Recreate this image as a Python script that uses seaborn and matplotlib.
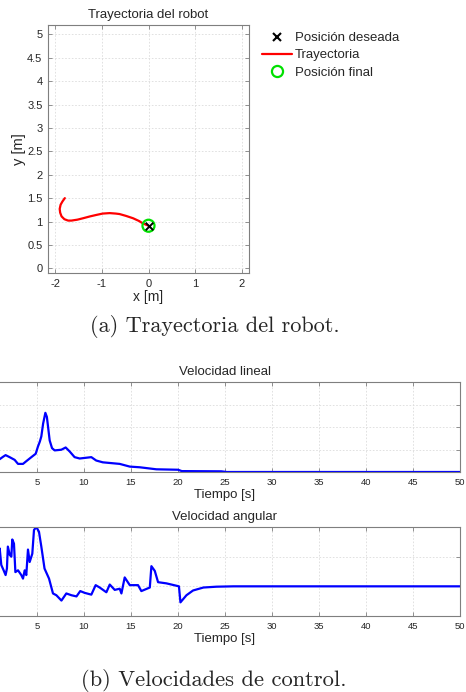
import numpy as np
import pandas as pd
import matplotlib
matplotlib.use("Agg")
import matplotlib.pyplot as plt
from matplotlib.lines import Line2D
import seaborn as sns

# ---------------- data ----------------
traj_x = [-1.79, -1.84, -1.88, -1.90, -1.89, -1.86, -1.80, -1.72, -1.65, -1.52, -1.40,
          -1.25, -1.12, -0.98, -0.83, -0.70, -0.62, -0.48, -0.33, -0.20, -0.12, -0.05, 0.0]
traj_y = [1.50, 1.43, 1.36, 1.27, 1.19, 1.11, 1.05, 1.02, 1.02, 1.04, 1.07,
          1.11, 1.14, 1.17, 1.18, 1.17, 1.16, 1.12, 1.07, 1.01, 0.96, 0.93, 0.91]
goal_x, goal_y = [0.0], [0.9]
final_x, final_y = [0.0], [0.91]

t_lin = [0.0, 0.5, 1.03, 1.40, 1.66, 2.09, 2.62, 2.98, 3.51, 3.86, 4.40, 4.86, 5.10, 5.30,
         5.46, 5.65, 5.89, 6.05, 6.17, 6.35, 6.60, 6.88, 7.59, 8.05, 8.48, 9.00, 9.54,
         10.78, 11.30, 12.00, 13.80, 14.87, 15.93, 17.70, 20.00, 20.40, 24.60, 25.20, 50.0]
v_lin = [0.045, 0.05, 0.057, 0.068, 0.075, 0.066, 0.054, 0.036, 0.036, 0.048, 0.066,
         0.081, 0.113, 0.135, 0.158, 0.215, 0.263, 0.245, 0.203, 0.140, 0.106, 0.096,
         0.099, 0.109, 0.091, 0.066, 0.060, 0.066, 0.051, 0.043, 0.036, 0.024, 0.021,
         0.012, 0.010, 0.004, 0.003, 0.0, 0.0]

t_ang = [0.0, 0.6, 1.03, 1.20, 1.45, 1.66, 1.80, 1.90, 2.10, 2.27, 2.37, 2.55, 2.70, 2.98,
         3.33, 3.51, 3.69, 3.86, 4.04, 4.22, 4.50, 4.68, 4.93, 5.21, 5.46, 5.80, 6.28,
         6.70, 7.06, 7.60, 8.12, 8.66, 9.20, 9.60, 10.07, 10.78, 11.24, 11.67, 12.38,
         12.74, 13.27, 13.80, 13.98, 14.33, 14.87, 15.75, 16.10, 17.00, 17.17, 17.53,
         17.88, 18.77, 20.10, 20.26, 20.90, 21.60, 22.70, 24.10, 25.90, 50.0]
w_ang = [0.30, 0.45, 0.64, 0.36, 0.27, 0.19, 0.30, 0.67, 0.53, 0.50, 0.79, 0.72, 0.24, 0.27,
         0.19, 0.13, 0.27, 0.19, 0.62, 0.41, 0.55, 0.95, 1.00, 0.92, 0.67, 0.30, 0.13,
         -0.12, -0.15, -0.24, -0.12, -0.15, -0.17, -0.08, -0.11, -0.14, 0.02, -0.02, -0.10,
         0.03, -0.06, -0.04, -0.12, 0.15, 0.02, 0.02, -0.08, -0.02, 0.34, 0.26,
         0.07, 0.05, 0.0, -0.27, -0.15, -0.07, -0.02, -0.006, 0.0, 0.0]

x_ticks_traj = [-2, -1, 0, 1, 2]
y_ticks_traj = [0, 0.5, 1, 1.5, 2, 2.5, 3, 3.5, 4, 4.5, 5]
y_labels_traj = ["0", "0.5", "1", "1.5", "2", "2.5", "3", "3.5", "4", "4.5", "5"]
t_ticks = [0, 5, 10, 15, 20, 25, 30, 35, 40, 45, 50]
t_labels = ["", "5", "10", "15", "20", "25", "30", "35", "40", "45", "50"]

traj_df = pd.DataFrame({"x": traj_x, "y": traj_y})
lin_df = pd.DataFrame({"t": t_lin, "v": v_lin})
ang_df = pd.DataFrame({"t": t_ang, "w": w_ang})

# ---------------- style ----------------
sns.set_style("ticks")
plt.rcParams["font.family"] = ["Liberation Sans", "DejaVu Sans"]
plt.rcParams["axes.unicode_minus"] = False
FRAME = "#7f7f7f"
GRID = "#dcdcdc"

W, H = 466, 692
fig = plt.figure(figsize=(W / 100, H / 100), dpi=100)


def ax_px(left, top, right, bottom):
    return fig.add_axes([left / W, 1 - bottom / H, (right - left) / W, (bottom - top) / H])


def style_axes(ax, labelsize):
    for s in ax.spines.values():
        s.set_color(FRAME)
        s.set_linewidth(0.8)
    ax.tick_params(direction="in", top=True, right=True, length=3, width=0.6,
                   color=FRAME, labelsize=labelsize, pad=4)
    ax.grid(True, color=GRID, linestyle=(0, (2, 2)), linewidth=0.6)
    ax.set_axisbelow(True)


# ---- trajectory ----
ax1 = ax_px(48, 25, 249, 273)
style_axes(ax1, 8)
sns.lineplot(data=traj_df, x="x", y="y", sort=False, color="#ff0000", linewidth=1.6,
             ax=ax1, estimator=None)
sns.scatterplot(x=final_x, y=final_y, ax=ax1, s=75, facecolor="none",
                edgecolor="#00e000", linewidth=1.6, marker="o", zorder=4)
sns.scatterplot(x=goal_x, y=goal_y, ax=ax1, s=30, color="black", marker="x",
                linewidth=1.4, zorder=5)
ax1.set_xlim(-2.15, 2.15)
ax1.set_ylim(-0.1, 5.2)
ax1.set_xticks(x_ticks_traj)
ax1.set_yticks(y_ticks_traj)
ax1.set_yticklabels(y_labels_traj)
ax1.set_title("Trayectoria del robot", fontsize=9.5, pad=5)
ax1.set_xlabel("x [m]", fontsize=10, labelpad=1)
ax1.set_ylabel("y [m]", fontsize=10.5)
ax1.yaxis.set_label_coords((26 - 48) / 201, 0.5)

handles = [
    Line2D([], [], color="black", marker="x", linestyle="none", markersize=6, markeredgewidth=1.5),
    Line2D([], [], color="#ff0000", linewidth=1.6),
    Line2D([], [], color="#00e000", marker="o", linestyle="none", markersize=8,
           markerfacecolor="none", markeredgewidth=1.6),
]
fig.legend(handles, ["Posición deseada", "Trayectoria", "Posición final"],
           loc="upper left", bbox_to_anchor=(262 / W, 1 - 32 / H), frameon=False,
           fontsize=9.5, handlelength=2.3, handletextpad=0.2, labelspacing=0.38,
           borderpad=0, borderaxespad=0)

fig.text(215 / W, 1 - 327 / H, "(a) Trayectoria del robot.", ha="center", va="center",
         fontsize=16, family="cmr10")

# ---- linear velocity ----
ax2 = ax_px(-10, 382, 460, 472)
style_axes(ax2, 6.8)
sns.lineplot(data=lin_df, x="t", y="v", color="#0000ff", linewidth=1.6, ax=ax2, estimator=None)
ax2.set_xlim(0, 50)
ax2.set_ylim(0, 0.4)
ax2.set_xticks(t_ticks)
ax2.set_xticklabels(t_labels)
ax2.set_yticks([0, 0.1, 0.2, 0.3])
ax2.set_yticklabels([])
ax2.set_title("Velocidad lineal", fontsize=9.5, pad=5)
ax2.set_xlabel("Tiempo [s]", fontsize=9.5, labelpad=2)
ax2.set_ylabel("")

# ---- angular velocity ----
ax3 = ax_px(-10, 527, 460, 616)
style_axes(ax3, 6.8)
sns.lineplot(data=ang_df, x="t", y="w", color="#0000ff", linewidth=1.6, ax=ax3, estimator=None)
ax3.set_xlim(0, 50)
ax3.set_ylim(-0.5, 1.0)
ax3.set_xticks(t_ticks)
ax3.set_xticklabels(t_labels)
ax3.set_yticks([0, 0.5])
ax3.set_yticklabels([])
ax3.set_title("Velocidad angular", fontsize=9.5, pad=5)
ax3.set_xlabel("Tiempo [s]", fontsize=9.5, labelpad=2)
ax3.set_ylabel("")

fig.text(214 / W, 1 - 681 / H, "(b) Velocidades de control.", ha="center", va="center",
         fontsize=16.2, family="cmr10")

fig.savefig("out.png", dpi=100)
